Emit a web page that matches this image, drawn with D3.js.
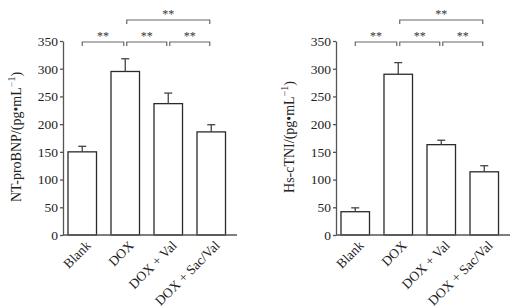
<!DOCTYPE html>
<html lang="en">
<head>
<meta charset="UTF-8">
<title>NT-proBNP and Hs-cTNI</title>
<script src="https://d3js.org/d3.v7.min.js"></script>
<style>
    body { margin: 0; background: #fff; }
    text { font-family: "Liberation Serif", "Times New Roman", serif; fill: #222; }
</style>
</head>
<body>
<script>

    var categories = ["Blank", "DOX", "DOX + Val", "DOX + Sac/Val"];
    var bnpMean = [150, 295, 237, 186];
    var bnpErr = [10, 23, 19, 13];
    var ctniMean = [42, 290, 163, 114];
    var ctniErr = [7, 21, 8, 11];
    var yTicks = [0, 50, 100, 150, 200, 250, 300, 350];
    // [from, to, row] -- row 0 = lower bracket, row 1 = upper bracket
    var comparisons = [[0, 1, 0], [1, 2, 0], [2, 3, 0], [1, 3, 1]];

    var width = 520, height = 308;

    var svg = d3.select("body").append("svg")
        .attr("width", width)
        .attr("height", height);

    var axisColor = "#555";

    function drawPanel(offsetX, means, errs, labelMain, minusColor) {
        var g = svg.append("g").attr("transform", "translate(" + offsetX + ",0)");

        var axisX = 63, axisEnd = 237;
        var yScale = d3.scaleLinear().domain([0, 350]).range([235, 41]);
        var xScale = d3.scaleBand()
            .domain(categories)
            .range([63, 230.5])
            .paddingInner(0.337)
            .paddingOuter(0.116);

        // y axis
        var yAxis = d3.axisLeft(yScale).tickValues(yTicks).tickSize(3).tickSizeOuter(0);
        var ya = g.append("g")
            .attr("transform", "translate(" + axisX + ",0)")
            .call(yAxis);
        ya.select(".domain").attr("stroke", axisColor).attr("stroke-width", 1.3);
        ya.selectAll(".tick line").attr("stroke", axisColor).attr("stroke-width", 1.3);
        ya.selectAll(".tick text")
            .attr("font-size", "13.5px")
            .attr("x", -5)
            .attr("font-family", "Liberation Serif, Times New Roman, serif")
            .attr("fill", "#222");

        // bars
        g.selectAll("rect.bar")
            .data(means)
            .join("rect")
            .attr("class", "bar")
            .attr("x", function (d, i) { return xScale(categories[i]); })
            .attr("y", function (d) { return yScale(d); })
            .attr("width", xScale.bandwidth())
            .attr("height", function (d) { return yScale(0) - yScale(d); })
            .attr("fill", "#fff")
            .attr("stroke", "#2a2a2a")
            .attr("stroke-width", 1.3);

        // error bars (upper only)
        means.forEach(function (m, i) {
            var cx = xScale(categories[i]) + xScale.bandwidth() / 2;
            g.append("line")
                .attr("x1", cx).attr("x2", cx)
                .attr("y1", yScale(m)).attr("y2", yScale(m + errs[i]))
                .attr("stroke", "#444").attr("stroke-width", 1.3);
            g.append("line")
                .attr("x1", cx - 4).attr("x2", cx + 4)
                .attr("y1", yScale(m + errs[i])).attr("y2", yScale(m + errs[i]))
                .attr("stroke", "#444").attr("stroke-width", 1.3);
        });

        // x axis line
        g.append("line")
            .attr("x1", axisX).attr("x2", axisEnd)
            .attr("y1", yScale(0)).attr("y2", yScale(0))
            .attr("stroke", axisColor).attr("stroke-width", 1.3);

        // x labels, rotated
        categories.forEach(function (c, i) {
            var cx = xScale(c) + xScale.bandwidth() / 2 + 6;
            g.append("text")
                .attr("transform", "translate(" + cx + "," + (yScale(0) + 8) + ") rotate(-45)")
                .attr("text-anchor", "end")
                .attr("font-size", "13.5px")
                .attr("dy", "0.35em")
                .text(c);
        });

        // significance brackets
        var rowY = [42, 20];
        comparisons.forEach(function (cmp) {
            var x1 = xScale(categories[cmp[0]]) + xScale.bandwidth() / 2 + (cmp[0] === 0 ? 0 : 1.5);
            var x2 = xScale(categories[cmp[1]]) + xScale.bandwidth() / 2 - 1.5;
            var y = rowY[cmp[2]];
            g.append("path")
                .attr("d", "M" + x1 + "," + (y + 4) + "V" + y + "H" + x2 + "V" + (y + 4))
                .attr("fill", "none")
                .attr("stroke", "#666")
                .attr("stroke-width", 1.2);
            g.append("text")
                .attr("x", (x1 + x2) / 2)
                .attr("y", y - 2)
                .attr("text-anchor", "middle")
                .attr("font-size", "12px")
                .style("fill", "#333")
                .text("**");
        });

        // y label
        var lab = g.append("text")
            .attr("transform", "translate(" + (axisX - 42) + "," + 137 + ") rotate(-90)")
            .attr("text-anchor", "middle")
            .attr("font-size", "14px");
        lab.append("tspan").text(labelMain + "/(pg\u2022mL");
        lab.append("tspan").attr("dy", "-6").attr("font-size", "10px")
            .style("fill", minusColor).text("\u2212");
        lab.append("tspan").attr("font-size", "10px").text("1");
        lab.append("tspan").attr("dy", "6").text(")");
    }

    drawPanel(0, bnpMean, bnpErr, "NT-proBNP", "#2a6fd6");
    drawPanel(273, ctniMean, ctniErr, "Hs-cTNI", "#222");

</script>
</body>
</html>
